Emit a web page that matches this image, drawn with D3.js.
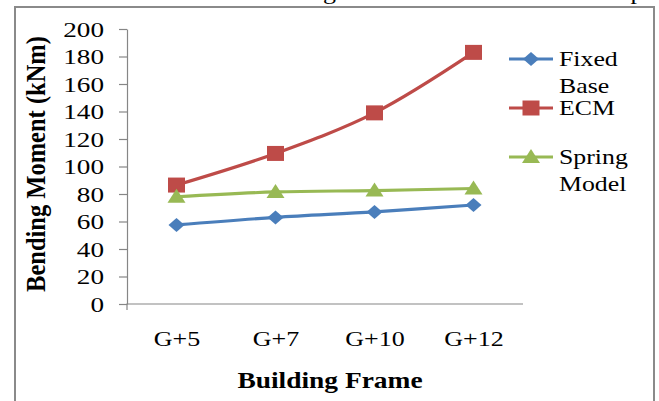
<!DOCTYPE html>
<html>
<head>
<meta charset="utf-8">
<script src="https://cdn.jsdelivr.net/npm/d3@7"></script>
<style>
  html, body { margin: 0; padding: 0; background: #fff; }
  svg { display: block; }
  text { font-family: "Liberation Serif", "Times New Roman", serif; fill: #000; }
</style>
</head>
<body>
<svg id="chart" width="659" height="401"></svg>
<script>
// Bending moment for each building frame, three support models
const categories = ["G+5", "G+7", "G+10", "G+12"];
const fixedBase = [57.5, 63, 67, 72];
const ecm = [86.5, 109.5, 139, 183];
const springModel = [78, 81.5, 82.5, 84];
const yTicks = [0, 20, 40, 60, 80, 100, 120, 140, 160, 180, 200];

const series = [
  { name: ["Fixed", "Base"], values: fixedBase, color: "#4a7ebb", marker: "diamond" },
  { name: ["ECM"], values: ecm, color: "#be4b48", marker: "square" },
  { name: ["Spring", "Model"], values: springModel, color: "#98b954", marker: "triangle" }
];

const svg = d3.select("#chart");
const SX = 1.3; // horizontal stretch of the typeface

// surrounding text line (mostly cut off at the top)
svg.append("text")
  .attr("transform", `translate(40,-1) scale(${SX},1)`)
  .attr("font-size", 20)
  .attr("fill", "#666")
  .text("The variation of the bending moment with the models is presented in Figure 6.");

// outer frame
svg.append("rect")
  .attr("x", 15).attr("y", 7)
  .attr("width", 639).attr("height", 420)
  .attr("fill", "none").attr("stroke", "#8a8a8a").attr("stroke-width", 2);

const plot = { left: 127, right: 523, top: 29, bottom: 304 };

const x = d3.scalePoint().domain(categories).range([plot.left, plot.right]).padding(0.5);
const y = d3.scaleLinear().domain([0, 200]).range([plot.bottom, plot.top]);

// y axis
const yAxis = svg.append("g")
  .attr("transform", `translate(${plot.left},0)`)
  .call(d3.axisLeft(y).tickValues(yTicks).tickSize(8).tickSizeOuter(0).tickFormat(d3.format("d")));
yAxis.select(".domain").attr("stroke", "#868686").attr("stroke-width", 1.2);
yAxis.selectAll(".tick line").attr("stroke", "#868686").attr("stroke-width", 1.2);
yAxis.selectAll(".tick text").remove();
yAxis.selectAll(".tick").append("text")
  .attr("transform", `translate(-23,7) scale(1.36,1)`)
  .attr("text-anchor", "end")
  .attr("font-size", 20)
  .text(d => d);

// x axis
const xAxis = svg.append("g")
  .attr("transform", `translate(0,${plot.bottom})`)
  .call(d3.axisBottom(x).tickSize(0).tickSizeOuter(0));
xAxis.select(".domain").attr("stroke", "#868686").attr("stroke-width", 1.2)
  .attr("d", `M${plot.left},6V0H${plot.right}`);
xAxis.selectAll(".tick text").remove();
xAxis.selectAll(".tick").append("text")
  .attr("transform", `translate(0,42) scale(${SX},1)`)
  .attr("text-anchor", "middle")
  .attr("font-size", 20)
  .text(d => d);

// axis titles
svg.append("text")
  .attr("transform", `translate(330,388) scale(1.22,1)`)
  .attr("text-anchor", "middle")
  .attr("font-size", 22.5)
  .attr("font-weight", "bold")
  .text("Building Frame");

svg.append("text")
  .attr("transform", `translate(45,164) scale(1.1,1) rotate(-90)`)
  .attr("text-anchor", "middle")
  .attr("font-size", 24.5)
  .attr("font-weight", "bold")
  .text("Bending Moment (kNm)");

// marker shapes
function markerPath(type) {
  if (type === "diamond") return "M0,-7L8,0L0,7L-8,0Z";
  if (type === "square") return "M-8.5,-7.5H8.5V7.5H-8.5Z";
  return "M0,-8L9,6H-9Z";
}

const line = d3.line()
  .x((d, i) => x(categories[i]))
  .y(d => y(d))
  .curve(d3.curveCatmullRom.alpha(0.5));

series.forEach(s => {
  svg.append("path")
    .datum(s.values)
    .attr("d", line)
    .attr("fill", "none")
    .attr("stroke", s.color)
    .attr("stroke-width", 3.2)
    .attr("stroke-linejoin", "round");
  svg.selectAll(null)
    .data(s.values)
    .enter().append("path")
    .attr("transform", (d, i) => `translate(${x(categories[i])},${y(d)})`)
    .attr("d", markerPath(s.marker))
    .attr("fill", s.color);
});

// legend
const legendY = [59, 108, 157];
series.forEach((s, k) => {
  const g = svg.append("g").attr("transform", `translate(509,${legendY[k]})`);
  g.append("line").attr("x1", 0).attr("x2", 44).attr("y1", 0).attr("y2", 0)
    .attr("stroke", s.color).attr("stroke-width", 3.2);
  g.append("path").attr("transform", "translate(22,0)").attr("d", markerPath(s.marker)).attr("fill", s.color);
  s.name.forEach((t, j) => {
    g.append("text")
      .attr("transform", `translate(50,${7 + j * 27}) scale(1.2,1)`)
      .attr("font-size", 21.5)
      .text(t);
  });
});
</script>
</body>
</html>
